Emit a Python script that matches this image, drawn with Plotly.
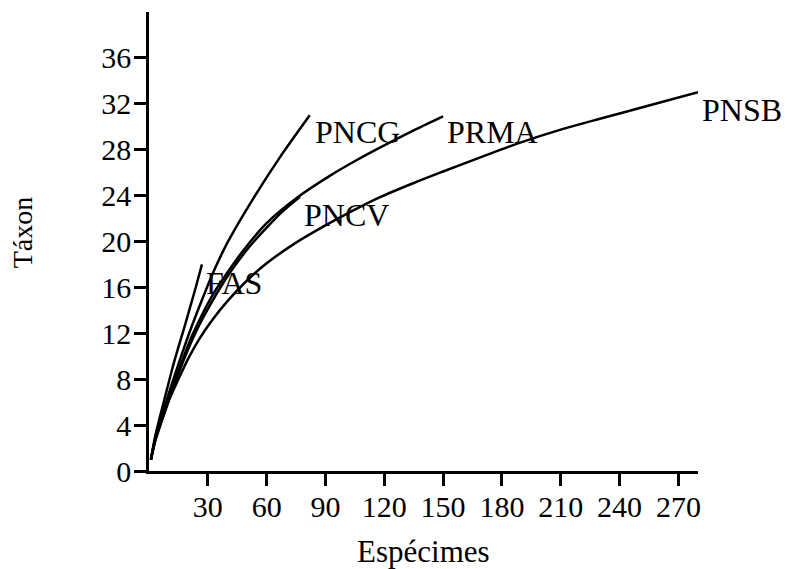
import plotly.graph_objects as go

# Data (Espécimes vs Táxon rarefaction curves)
fas_x = [1, 3, 6, 9, 12, 15, 18, 21, 24, 27]
fas_y = [1, 2.9, 5.0, 7.0, 9.0, 10.8, 12.5, 14.3, 16.1, 18.0]

pncg_x = [1, 3, 6, 10, 14, 18, 22, 27, 33, 40, 53, 67, 82]
pncg_y = [1, 2.7, 4.5, 6.7, 8.8, 10.8, 12.7, 14.9, 17.4, 19.9, 23.7, 27.4, 31.0]

prma_x = [1, 3, 6, 10, 14, 18, 22, 27, 33, 40, 48, 60, 77, 92, 106, 118, 134, 150]
prma_y = [1, 2.6, 4.3, 6.4, 8.3, 10.1, 11.8, 13.6, 15.5, 17.3, 19.2, 21.6, 24.0, 25.7, 27.1, 28.2, 29.6, 30.9]

pncv_x = [1, 3, 6, 10, 14, 18, 23, 28, 35, 43, 51, 60, 68, 77]
pncv_y = [1, 2.5, 4.1, 6.1, 8.0, 9.8, 11.8, 13.5, 15.6, 17.7, 19.5, 21.2, 22.6, 23.9]

pnsb_x = [1, 3, 6, 10, 15, 20, 26, 32, 40, 50, 60, 75, 90, 103, 117, 135, 150, 170, 189, 210, 230, 255, 280]
pnsb_y = [1, 2.6, 4.2, 6.1, 8.0, 9.8, 11.6, 13.1, 14.8, 16.6, 18.1, 19.9, 21.4, 22.6, 23.8, 25.1, 26.1, 27.4, 28.6, 29.75, 30.7, 31.85, 33.0]

series = [
    ("FAS", fas_x, fas_y),
    ("PNCG", pncg_x, pncg_y),
    ("PRMA", prma_x, prma_y),
    ("PNCV", pncv_x, pncv_y),
    ("PNSB", pnsb_x, pnsb_y),
]

# label anchor points (data coords, left edge / vertical middle)
label_names = ["PNCG", "PRMA", "PNCV", "FAS"]
label_x = [83.5, 151.0, 78.2, 28.2]
label_y = [29.5, 29.5, 22.3, 16.4]
pnsb_label_y = 31.5

x_ticks = [30, 60, 90, 120, 150, 180, 210, 240, 270]
y_ticks = [0, 4, 8, 12, 16, 20, 24, 28, 32, 36]

FONT = "Liberation Serif, Times New Roman, serif"

fig = go.Figure()
for name, xs, ys in series:
    fig.add_trace(go.Scatter(x=xs, y=ys, mode="lines", name=name,
                             line=dict(color="black", width=2.5, shape="spline", smoothing=0.8),
                             showlegend=False))

for n, lx, ly in zip(label_names, label_x, label_y):
    fig.add_annotation(x=lx, y=ly, xref="x", yref="y", text=n, showarrow=False,
                       xanchor="left", yanchor="middle",
                       font=dict(family=FONT, size=32, color="black"))
# PNSB label sits beyond the x range, so anchor it in paper coordinates
fig.add_annotation(x=1.0, y=pnsb_label_y, xref="paper", yref="y", text="PNSB", showarrow=False,
                   xanchor="left", yanchor="middle", xshift=2,
                   font=dict(family=FONT, size=32, color="black"))

# axis titles
fig.add_annotation(x=0.5, y=0, xref="paper", yref="paper", text="Espécimes", showarrow=False,
                   xanchor="center", yanchor="middle", yshift=-80,
                   font=dict(family=FONT, size=31, color="black"))
fig.add_annotation(x=0, y=0.52, xref="paper", yref="paper", text="Táxon", showarrow=False,
                   xanchor="center", yanchor="middle", xshift=-127, textangle=-90,
                   font=dict(family=FONT, size=28, color="black"))

fig.update_layout(
    width=787, height=569,
    margin=dict(l=149, r=89, t=12, b=98),
    paper_bgcolor="white", plot_bgcolor="white",
    font=dict(family=FONT, size=30, color="black"),
)
fig.update_xaxes(range=[0, 280], tickmode="array", tickvals=x_ticks,
                 ticktext=[str(v) for v in x_ticks],
                 showline=True, linecolor="black", linewidth=2.5,
                 ticks="outside", ticklen=12, tickwidth=2.5, tickcolor="black",
                 ticklabelstandoff=-5,
                 showgrid=False, zeroline=False,
                 tickfont=dict(family=FONT, size=30, color="black"))
fig.update_yaxes(range=[0, 40], tickmode="array", tickvals=y_ticks,
                 ticktext=[str(v) for v in y_ticks],
                 showline=True, linecolor="black", linewidth=2.5,
                 ticks="outside", ticklen=12, tickwidth=2.5, tickcolor="black",
                 ticklabelstandoff=-3,
                 showgrid=False, zeroline=False,
                 tickfont=dict(family=FONT, size=30, color="black"))

fig.write_html("out.html")
